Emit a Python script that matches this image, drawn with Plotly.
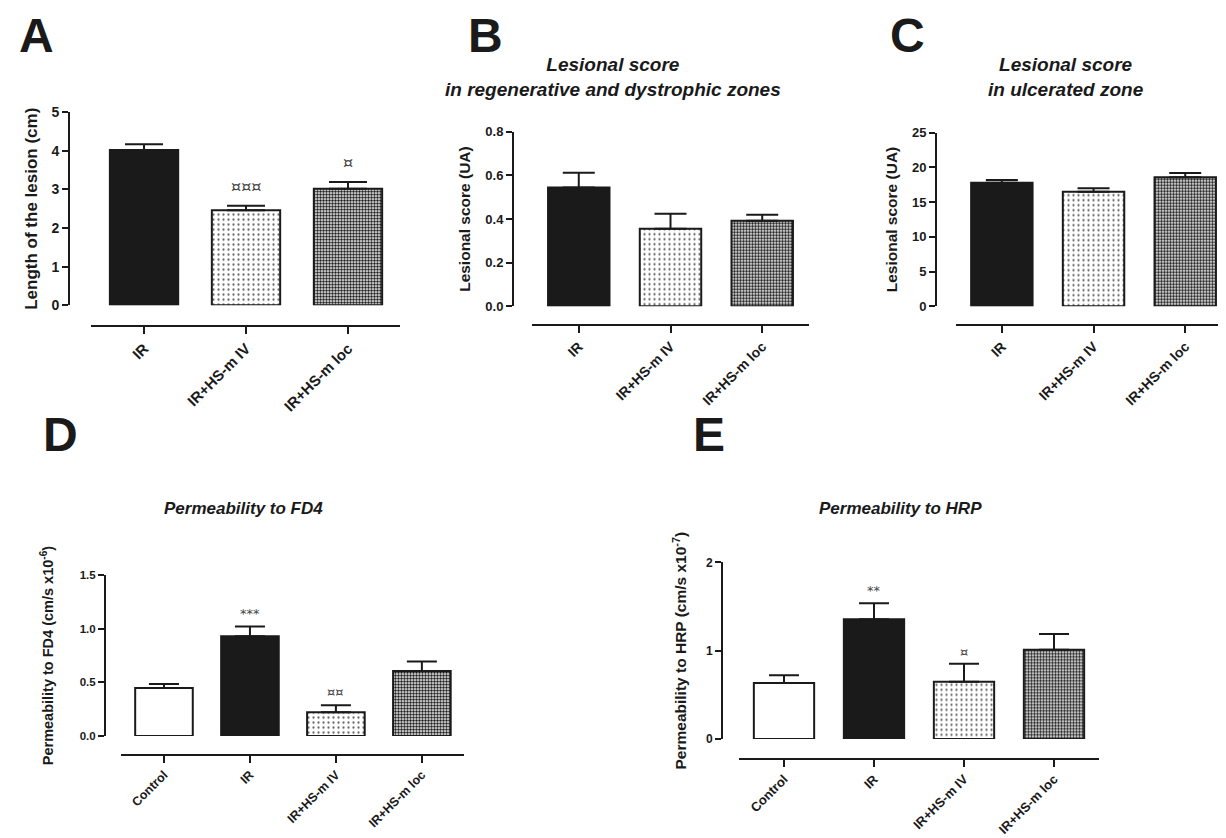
import plotly.graph_objects as go

W, H = 1226, 838
FONT = "Liberation Sans, Arial, sans-serif"
INK = "#1a1a1a"

# ---------------- data ----------------
cats3 = ["IR", "IR+HS-m IV", "IR+HS-m loc"]
cats4 = ["Control", "IR", "IR+HS-m IV", "IR+HS-m loc"]

lesion_len = [4.02, 2.46, 3.02]
lesion_len_sem = [0.15, 0.12, 0.17]
lesion_len_sig = ["", "¤¤¤", "¤"]

score_regen = [0.544, 0.356, 0.392]
score_regen_sem = [0.068, 0.068, 0.028]

score_ulcer = [17.8, 16.5, 18.6]
score_ulcer_sem = [0.4, 0.5, 0.6]

perm_fd4 = [0.448, 0.93, 0.222, 0.607]
perm_fd4_sem = [0.037, 0.09, 0.064, 0.088]
perm_fd4_sig = ["", "***", "¤¤", ""]

perm_hrp = [0.633, 1.356, 0.648, 1.01]
perm_hrp_sem = [0.087, 0.18, 0.205, 0.18]
perm_hrp_sig = ["", "**", "¤", ""]

# ---------------- styles per group ----------------
STYLE = {
    "Control": dict(color="white", pattern=None),
    "IR": dict(color=INK, pattern=None),
    "IR+HS-m IV": dict(color="white",
                       pattern=dict(shape=".", fgcolor="#666666", bgcolor="white",
                                    size=5, solidity=0.16, fillmode="replace")),
    "IR+HS-m loc": dict(color="white",
                        pattern=dict(shape=".", fgcolor="#1a1a1a", bgcolor="white",
                                     size=3, solidity=0.55, fillmode="replace")),
}


def px_x(v):
    return v / W


def px_y(v):
    return 1 - v / H


fig = go.Figure()

panels = [
    dict(cats=cats3, vals=lesion_len, sem=lesion_len_sem, sig=lesion_len_sig,
         xd=(83, 392), xr=(-0.52, 2.51), xl=316, yd=(98, 295), yr=(0, 5), ya=61,
         dtick=1, fmt="d", tfs=14, cfs=15, capw=19, sigfs=16, sigshift=8,
         ytitle="Length of the lesion (cm)", ytfs=17, so=8),
    dict(cats=cats3, vals=score_regen, sem=score_regen_sem, sig=None,
         xd=(524, 801), xr=(-0.51, 2.51), xl=315, yd=(118, 296), yr=(0, 0.8), ya=505,
         dtick=0.2, fmt=".1f", tfs=13, cfs=14, capw=16, sigfs=13, sigshift=3,
         ytitle="Lesional score (UA)", ytfs=15.5, so=10),
    dict(cats=cats3, vals=score_ulcer, sem=score_ulcer_sem, sig=None,
         xd=(948, 1224), xr=(-0.50, 2.51), xl=315, yd=(119, 296), yr=(0, 25), ya=928,
         dtick=5, fmt="d", tfs=13, cfs=14, capw=16, sigfs=13, sigshift=3,
         ytitle="Lesional score (UA)", ytfs=15.5, so=9),
    dict(cats=cats4, vals=perm_fd4, sem=perm_fd4_sem, sig=perm_fd4_sig,
         xd=(113, 456), xr=(-0.5, 3.49), xl=753, yd=(570, 734), yr=(0, 1.5), ya=97,
         dtick=0.5, fmt=".1f", tfs=11.5, cfs=12.5, capw=15, sigfs=13, sigshift=4,
         ytitle="Permeability to FD4 (cm/s x10<sup>-6</sup>)", ytfs=14.5, so=22),
    dict(cats=cats4, vals=perm_hrp, sem=perm_hrp_sem, sig=perm_hrp_sig,
         xd=(731, 1091), xr=(-0.5, 3.5), xl=757, yd=(557, 737), yr=(0, 2), ya=714,
         dtick=1, fmt="d", tfs=12, cfs=13, capw=15, sigfs=13, sigshift=3,
         ytitle="Permeability to HRP (cm/s x10<sup>-7</sup>)", ytfs=15.5, so=14),
]

layout_axes = {}
annotations = []
for i, p in enumerate(panels, start=1):
    xa = "x" if i == 1 else f"x{i}"
    ya = "y" if i == 1 else f"y{i}"
    for c, v, e in zip(p["cats"], p["vals"], p["sem"]):
        st = STYLE[c]
        marker = dict(color=st["color"], line=dict(color=INK, width=2))
        if st["pattern"]:
            marker["pattern"] = st["pattern"]
        fig.add_trace(go.Bar(
            x=[c], y=[v], width=0.67, name=c,
            xaxis=xa, yaxis=ya, marker=marker,
            error_y=dict(type="data", symmetric=False, array=[e], arrayminus=[0],
                         color=INK, thickness=2, width=p["capw"]),
            showlegend=False,
        ))
    xkey = "xaxis" if i == 1 else f"xaxis{i}"
    ykey = "yaxis" if i == 1 else f"yaxis{i}"
    layout_axes[xkey] = dict(
        domain=[px_x(p["xd"][0]), px_x(p["xd"][1])], range=list(p["xr"]),
        anchor="free", position=px_y(p["xl"]),
        type="category", categoryorder="array", categoryarray=p["cats"],
        showline=True, linecolor=INK, linewidth=2,
        ticks="outside", ticklen=7, tickwidth=2, tickcolor=INK,
        tickangle=-45,
        tickfont=dict(family=FONT, size=p["cfs"], color=INK, weight="bold"),
        showgrid=False, zeroline=False, fixedrange=True,
    )
    layout_axes[ykey] = dict(
        domain=[px_y(p["yd"][1]), px_y(p["yd"][0])], range=list(p["yr"]),
        anchor="free", position=px_x(p["ya"]),
        showline=True, linecolor=INK, linewidth=2,
        ticks="outside", ticklen=6, tickwidth=2, tickcolor=INK,
        dtick=p["dtick"], tick0=0, tickformat=p["fmt"],
        tickfont=dict(family=FONT, size=p["tfs"], color=INK, weight="bold"),
        title=dict(text="<b>" + p["ytitle"] + "</b>", standoff=p["so"],
                   font=dict(family=FONT, size=p["ytfs"], color=INK)),
        showgrid=False, zeroline=False, fixedrange=True,
    )
    if p["sig"]:
        for c, v, e, s in zip(p["cats"], p["vals"], p["sem"], p["sig"]):
            if s:
                annotations.append(dict(
                    x=c, y=v + e, xref=xa, yref=ya, text=s, showarrow=False,
                    yanchor="bottom", yshift=p["sigshift"],
                    font=dict(family="DejaVu Sans, sans-serif", size=p["sigfs"],
                              color="#444"),
                ))

# panel letters
for letter, cx, cy in [("A", 28, 20), ("B", 477, 20), ("C", 899, 20),
                       ("D", 52, 427), ("E", 701, 427)]:
    annotations.append(dict(
        x=px_x(cx), y=px_y(cy), xref="paper", yref="paper", text=f"<b>{letter}</b>",
        showarrow=False, xanchor="center", yanchor="middle",
        font=dict(family=FONT, size=48, color=INK),
    ))

# panel titles
for txt, cx, cy, fs in [
    ("Lesional score<br>in regenerative and dystrophic zones", 605, 62, 19),
    ("Lesional score<br>in ulcerated zone", 1058, 62, 19),
    ("Permeability to FD4", 235, 502, 17),
    ("Permeability to HRP", 892, 502, 17),
]:
    annotations.append(dict(
        x=px_x(cx), y=px_y(cy), xref="paper", yref="paper",
        text=f"<b><i>{txt}</i></b>", showarrow=False,
        xanchor="center", yanchor="middle",
        font=dict(family=FONT, size=fs, color=INK),
    ))

fig.update_layout(
    width=W, height=H, margin=dict(l=0, r=0, t=0, b=0),
    paper_bgcolor="white", plot_bgcolor="white",
    font=dict(family=FONT, color=INK),
    barmode="overlay", annotations=annotations, **layout_axes,
)

fig.write_html("out.html")
